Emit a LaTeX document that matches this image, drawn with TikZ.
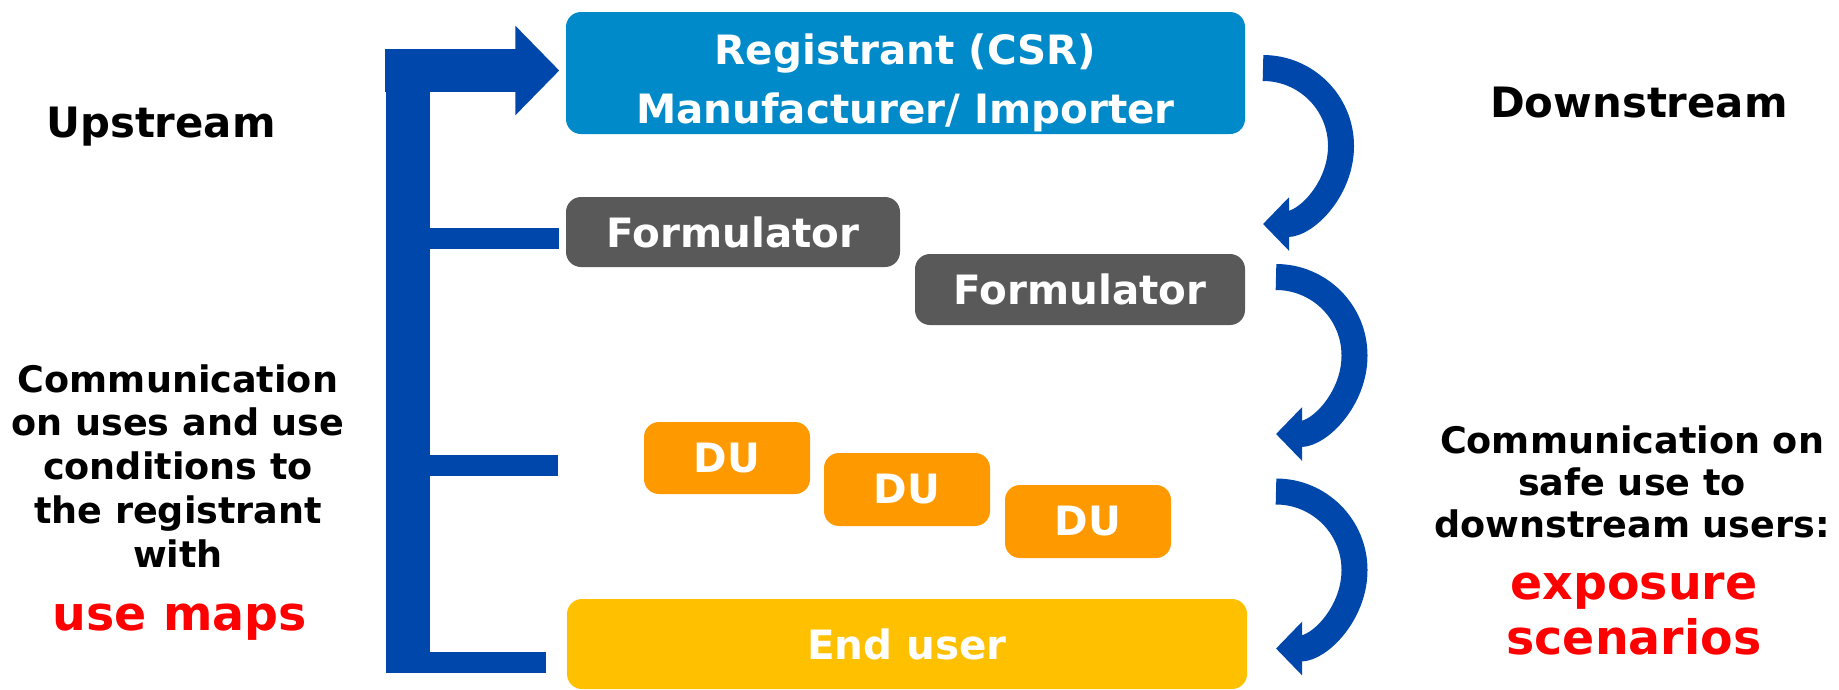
\documentclass[tikz,border=0pt]{standalone}
\usepackage{fontspec}
\setmainfont{DejaVu Sans}
\usetikzlibrary{arrows.meta}
\definecolor{regblue}{RGB}{0,138,201}
\definecolor{formgray}{RGB}{89,89,89}
\definecolor{duorange}{RGB}{255,153,0}
\definecolor{endyellow}{RGB}{255,192,0}
\definecolor{arrowblue}{RGB}{0,71,171}
\definecolor{textred}{RGB}{255,0,0}
\tikzset{
  box/.style={rounded corners=0.15cm, text=white, font=\bfseries\fontsize{11.5}{16.6}\selectfont, align=center, inner sep=0pt},
  branch/.style={arrowblue, line width=0.21cm},
  flow/.style={arrowblue, line width=0.26cm, -{Triangle[length=0.26cm,width=0.52cm]}}
}
\begin{document}
\begin{tikzpicture}
\useasboundingbox (0,0) rectangle (18.39,-6.89);

% boxes
\node[box, fill=regblue, minimum width=6.79cm, minimum height=1.22cm,
  label={[box, yshift=-0.1cm]center:{Registrant (CSR)\\Manufacturer/ Importer}}] (reg) at (9.055,-0.73) {};
\node[box, fill=formgray, minimum width=3.34cm, minimum height=0.70cm] (form1) at (7.33,-2.32) {Formulator};
\node[box, fill=formgray, minimum width=3.30cm, minimum height=0.71cm] (form2) at (10.80,-2.895) {Formulator};
\node[box, fill=duorange, minimum width=1.66cm, minimum height=0.72cm] (du1) at (7.27,-4.58) {DU};
\node[box, fill=duorange, minimum width=1.66cm, minimum height=0.73cm] (du2) at (9.07,-4.895) {DU};
\node[box, fill=duorange, minimum width=1.66cm, minimum height=0.73cm] (du3) at (10.88,-5.215) {DU};
\node[box, fill=endyellow, minimum width=6.80cm, minimum height=0.90cm] (enduser) at (9.07,-6.44) {End user};

% upstream bracket
\coordinate (bTop) at (4.075,-0.49);
\coordinate (bBot) at (4.075,-6.73);
\coordinate (bF) at (4.2,-2.385);
\coordinate (eF) at (5.59,-2.385);
\coordinate (bD) at (4.2,-4.655);
\coordinate (eD) at (5.58,-4.655);
\coordinate (bE) at (4.2,-6.625);
\coordinate (eE) at (5.46,-6.625);
\draw[arrowblue, line width=0.44cm] (bTop) -- (bBot);
\draw[arrowblue, line width=0.43cm, -{Triangle[length=0.44cm,width=0.87cm]}] (3.85,-0.705) -- ([xshift=-0.06cm]reg.west |- 0,-0.705);
\draw[branch] (bF) -- (eF);
\draw[branch] (bD) -- (eD);
\draw[branch] (bE) -- (eE);

% downstream arrows
\draw[flow] (12.63,-0.68) arc[start angle=90, end angle=-90, radius=0.78];
\draw[flow] (12.76,-2.77) arc[start angle=90, end angle=-90, radius=0.785];
\draw[flow] (12.76,-4.915) arc[start angle=90, end angle=-90, radius=0.785];

% labels
\node[font=\bfseries\fontsize{11.9}{14}\selectfont] (up) at (1.61,-1.27) {Upstream};
\node[font=\bfseries\fontsize{11.9}{14}\selectfont] (down) at (16.39,-1.03) {Downstream};
\node[font=\bfseries\fontsize{10.4}{12.5}\selectfont, align=center] (uptext) at (1.78,-4.66) {Communication\\on uses and use\\conditions to\\the registrant\\with};
\node[font=\bfseries\fontsize{13.5}{15.6}\selectfont, text=textred] (usemaps) at (1.80,-6.22) {use maps};
\node[font=\bfseries\fontsize{10.4}{11.9}\selectfont, align=center] (downtext) at (16.32,-4.82) {Communication on\\safe use to\\downstream users:};
\node[font=\bfseries\fontsize{13.5}{15.6}\selectfont, text=textred, align=center] (expo) at (16.34,-6.14) {exposure\\scenarios};
\end{tikzpicture}
\end{document}
